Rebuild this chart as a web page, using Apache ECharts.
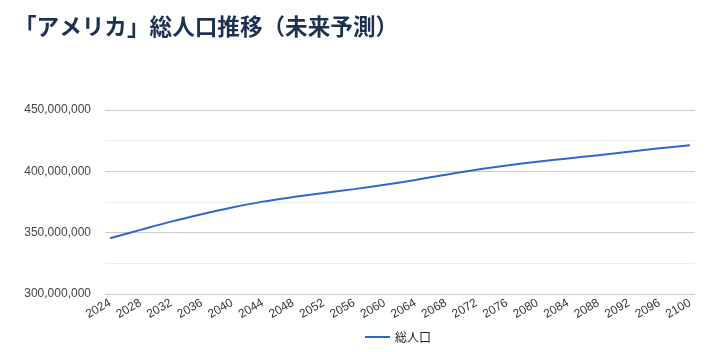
<!DOCTYPE html>
<html>
<head>
<meta charset="utf-8">
<script src="https://cdn.jsdelivr.net/npm/echarts@6/dist/echarts.min.js"></script>
<style>
  html, body { margin: 0; padding: 0; background: #fff; }
  #main { width: 715px; height: 352px; }
</style>
</head>
<body>
<div id="main"></div>
<script>
// years shown on the x axis (every 4 years)
var years = ['2024', '2028', '2032', '2036', '2040', '2044', '2048', '2052', '2056', '2060',
             '2064', '2068', '2072', '2076', '2080', '2084', '2088', '2092', '2096', '2100'];
// total population
var population = [345500000, 352300000, 359000000, 365000000, 370500000, 375300000, 379000000,
                  382300000, 385500000, 389000000, 393000000, 397200000, 401300000, 404800000,
                  407800000, 410500000, 413200000, 416000000, 418800000, 421300000];
var seriesName = '総人口';

var yMin = 300000000;
var yMax = 450000000;
var yStep = 50000000;

var FONT = '"Liberation Sans", Arial, "Noto Sans CJK JP", sans-serif';

var myChart = echarts.init(document.getElementById('main'));

var option = {
    animation: false,
    textStyle: { fontFamily: FONT },
    title: {
        text: '「アメリカ」総人口推移（未来予測）',
        left: 9,
        top: 10,
        textStyle: {
            fontFamily: '"Noto Sans CJK JP", sans-serif',
            fontSize: 22.6,
            fontWeight: 'bold',
            color: '#1d3150'
        }
    },
    // grid 0: gridlines + y labels, grid 1: the line itself (a little inset)
    grid: [
        { left: 105, right: 20, top: 110, bottom: 58 },
        { left: 110, right: 25, top: 110, bottom: 58 }
    ],
    xAxis: [
        {
            gridIndex: 0,
            type: 'category',
            data: years,
            show: false
        },
        {
            gridIndex: 1,
            type: 'category',
            data: years,
            boundaryGap: false,
            axisLine: { show: false },
            axisTick: { show: false },
            axisLabel: {
                rotate: 30,
                interval: 0,
                margin: 8,
                fontSize: 12,
                color: '#333333',
                fontFamily: FONT
            },
            splitLine: { show: false }
        }
    ],
    yAxis: [
        {
            gridIndex: 0,
            type: 'value',
            min: yMin,
            max: yMax,
            interval: yStep,
            axisLine: { show: false },
            axisTick: { show: false },
            axisLabel: {
                margin: 14,
                fontSize: 12,
                color: '#444444',
                fontFamily: FONT,
                formatter: function (v) {
                    return v.toLocaleString('en-US');
                }
            },
            splitLine: { lineStyle: { color: '#cccccc' } },
            minorTick: { show: false, splitNumber: 2 },
            minorSplitLine: { show: true, lineStyle: { color: '#ebebeb' } }
        },
        {
            gridIndex: 1,
            type: 'value',
            min: yMin,
            max: yMax,
            interval: yStep,
            show: false,
            splitLine: { show: false }
        }
    ],
    legend: {
        show: true,
        bottom: 4,
        left: 360,
        icon: 'rect',
        itemWidth: 25,
        itemHeight: 2,
        itemGap: 6,
        textStyle: {
            fontSize: 12,
            color: '#222222',
            fontFamily: '"Noto Sans CJK JP", sans-serif'
        },
        data: [seriesName]
    },
    color: ['#3366cc'],
    series: [
        {
            name: seriesName,
            type: 'line',
            xAxisIndex: 1,
            yAxisIndex: 1,
            data: population,
            symbol: 'none',
            smooth: 0.3,
            lineStyle: { width: 2, color: '#3366cc' }
        }
    ]
};

option && myChart.setOption(option);
</script>
</body>
</html>
